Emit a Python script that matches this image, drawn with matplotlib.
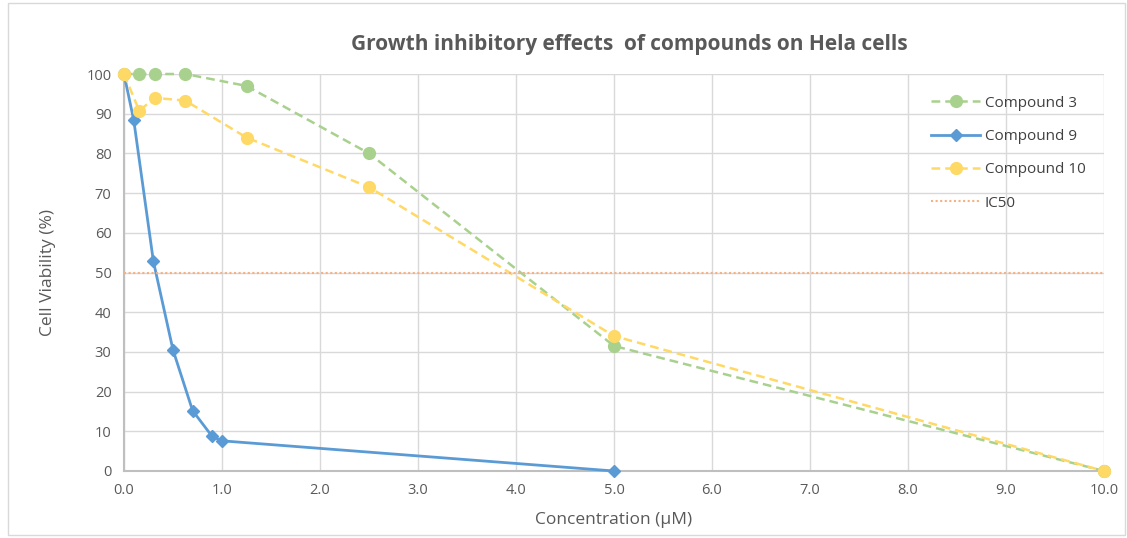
import matplotlib.pyplot as plt
import numpy as np

# concentrations (uM)
conc_3 = [0, 0.156, 0.3125, 0.625, 1.25, 2.5, 5, 10]
viab_3 = [100, 100, 100, 100, 97, 80, 31.5, 0]

conc_9 = [0, 0.1, 0.3, 0.5, 0.7, 0.9, 1.0, 5]
viab_9 = [100, 88.3, 52.8, 30.5, 15.2, 8.7, 7.6, 0]

conc_10 = [0, 0.156, 0.3125, 0.625, 1.25, 2.5, 5, 10]
viab_10 = [100, 90.7, 94, 93.3, 84, 71.5, 34, 0]

ic50_x = [0, 10]
ic50_y = [50, 50]

xticks = np.arange(0, 11, 1)
yticks = np.arange(0, 101, 10)

plt.rcParams['font.family'] = ['Open Sans', 'DejaVu Sans']
txt = '#595959'

fig = plt.figure(figsize=(11.27, 5.38), dpi=100)
ax = fig.add_axes([124/1127, 1 - 471/538, 980/1127, 397/538])

# series drawn in the same order as the spreadsheet (later ones on top)
ax.plot(conc_3, viab_3, color='#A9D18E', linestyle=(0, (3.5, 2)), linewidth=1.8,
        marker='o', markersize=8.5, label='Compound 3', zorder=3, clip_on=False)
ax.plot(conc_9, viab_9, color='#5B9BD5', linestyle='-', linewidth=2,
        marker='D', markersize=6, label='Compound 9', zorder=4, clip_on=False)
ax.plot(conc_10, viab_10, color='#FFD966', linestyle=(0, (3.5, 2)), linewidth=1.8,
        marker='o', markersize=8.5, label='Compound 10', zorder=5, clip_on=False)
ax.plot(ic50_x, ic50_y, color='#F4B183', linestyle=(0, (1, 1.2)), linewidth=1.5,
        label='IC50', zorder=6)

ax.set_xlim(0, 10)
ax.set_ylim(0, 100)
ax.set_xticks(xticks)
ax.set_xticklabels(['%.1f' % v for v in xticks])
ax.set_yticks(yticks)
ax.grid(True, color='#D9D9D9', linewidth=1)
ax.set_axisbelow(True)
for s in ['top', 'right']:
    ax.spines[s].set_visible(False)
for s in ['left', 'bottom']:
    ax.spines[s].set_color('#BFBFBF')
    ax.spines[s].set_linewidth(1.5)
ax.tick_params(length=0, labelsize=10.5, colors=txt, pad=9)

ax.set_xlabel('Concentration (µM)', fontsize=12.5, color=txt, labelpad=10)
ax.set_ylabel('Cell Viability (%)', fontsize=12.5, color=txt, labelpad=22)
fig.text(0.558, 0.918, 'Growth inhibitory effects  of compounds on Hela cells',
         ha='center', va='center', fontsize=15, fontweight='bold', color=txt)

leg = ax.legend(loc='upper right', bbox_to_anchor=(0.995, 0.98), frameon=False,
                fontsize=11, handlelength=3.2, labelspacing=1.2, handletextpad=0.3)
for t in leg.get_texts():
    t.set_color('#404040')

fig.patches.append(plt.Rectangle((8/1127, 0.005), 1117/1127, 0.99, transform=fig.transFigure,
                                 fill=False, edgecolor='#D9D9D9', linewidth=1))

fig.savefig('out.png', dpi=100)
